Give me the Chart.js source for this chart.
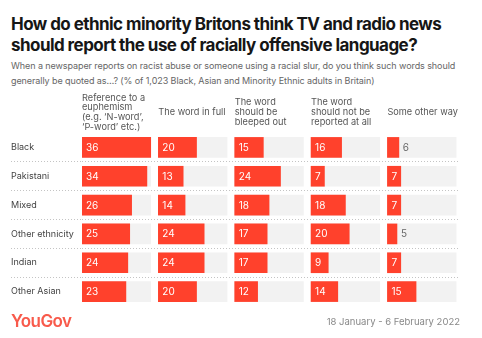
<!DOCTYPE html>
<html>
<head>
<meta charset="utf-8">
<script src="https://cdn.jsdelivr.net/npm/chart.js@4"></script>
<style>
  body { margin: 0; background: #fff; font-family: Inter, 'Noto Sans', sans-serif; }
  #wrap { position: relative; width: 482px; height: 338px; overflow: hidden; }
  #chart { position: absolute; left: 0; top: 0; }
  .title { position: absolute; left: 11px; top: 14px; font-size: 17px; line-height: 20.5px; font-weight: 700; color: #161616; white-space: nowrap; letter-spacing: -0.55px; }
  .subtitle { position: absolute; left: 11px; top: 58px; font-size: 9px; line-height: 15px; color: #666; white-space: nowrap; letter-spacing: -0.08px; }
  .logo { position: absolute; left: 11px; top: 310px; font-size: 17px; line-height: 22px; font-weight: 600; color: #f85a4b; letter-spacing: -0.6px; }
  .date { position: absolute; right: 22px; top: 315px; font-size: 9.5px; line-height: 14px; color: #888; }
</style>
</head>
<body>
<div id="wrap">
  <div class="title">How do ethnic minority Britons think TV and radio news<br>should report the use of racially offensive language?</div>
  <div class="subtitle">When a newspaper reports on racist abuse or someone using a racial slur, do you think such words should<br>generally be quoted as…? (% of 1,023 Black, Asian and Minority Ethnic adults in Britain)</div>
  <canvas id="chart" width="482" height="338"></canvas>
  <div class="logo">YouGov</div>
  <div class="date">18 January - 6 February 2022</div>
</div>
<script>
// Survey answers (%) by ethnic group
const ethnicGroups = ['Black', 'Pakistani', 'Mixed', 'Other ethnicity', 'Indian', 'Other Asian'];
const answerLabels = [
  ['Reference to a', 'euphemism', '(e.g. ‘N-word’,', '‘P-word’ etc.)'],
  ['The word in full'],
  ['The word', 'should be', 'bleeped out'],
  ['The word', 'should not be', 'reported at all'],
  ['Some other way']
];
const euphemism   = [36, 34, 26, 25, 24, 23];
const wordInFull  = [20, 13, 14, 24, 24, 20];
const bleepedOut  = [15, 24, 18, 17, 17, 12];
const notReported = [16, 7, 18, 20, 9, 14];
const otherWay    = [6, 7, 7, 5, 7, 15];

const answerValues = [euphemism, wordInFull, bleepedOut, notReported, otherWay];

// each answer gets its own panel along one shared x scale
const panelMax = 36;
const panelGap = 4;
const panelStart = answerValues.map((_, i) => i * (panelMax + panelGap));

const RED = '#ff412c';
const TRACK = '#f2f2f2';

const datasets = [];
answerValues.forEach((vals, p) => {
  datasets.push({
    label: answerLabels[p].join(' '),
    data: vals.map(v => [panelStart[p], panelStart[p] + v]),
    backgroundColor: RED,
    grouped: false,
    order: 0,
    isValue: true,
    raw: vals
  });
  datasets.push({
    label: 'track',
    data: vals.map(() => [panelStart[p], panelStart[p] + panelMax]),
    backgroundColor: TRACK,
    grouped: false,
    order: 1
  });
});

const rowLine = '#c4c4c4';
function separatorColor(c) {
  return c.index > 0 && c.index < ethnicGroups.length ? rowLine : 'rgba(0,0,0,0)';
}

// column headings, centred vertically above each panel
const headerPlugin = {
  id: 'headers',
  afterDraw(chart) {
    const ctx = chart.ctx;
    const x = chart.scales.x;
    const lh = 9.8;
    const midY = 112.5;
    ctx.save();
    ctx.font = '9.2px Inter, sans-serif';
    ctx.fillStyle = '#555';
    ctx.textAlign = 'left';
    ctx.textBaseline = 'middle';
    answerLabels.forEach((lines, p) => {
      const left = x.getPixelForValue(panelStart[p]);
      const top = midY - (lines.length - 1) * lh / 2;
      lines.forEach((line, i) => ctx.fillText(line, left, top + i * lh));
    });
    ctx.restore();
  }
};

// value labels: white inside the bar, grey just after it when the bar is short
const valuePlugin = {
  id: 'values',
  afterDatasetsDraw(chart) {
    const ctx = chart.ctx;
    ctx.save();
    ctx.font = '10px Inter, sans-serif';
    ctx.textBaseline = 'middle';
    ctx.textAlign = 'left';
    chart.data.datasets.forEach((ds, di) => {
      if (!ds.isValue) return;
      chart.getDatasetMeta(di).data.forEach((bar, i) => {
        const v = ds.raw[i];
        const start = Math.min(bar.x, bar.base);
        const end = Math.max(bar.x, bar.base);
        if (v >= 7) {
          ctx.fillStyle = '#fff';
          ctx.fillText(String(v), start + 4, bar.y + 0.5);
        } else {
          ctx.fillStyle = '#666';
          ctx.fillText(String(v), end + 4, bar.y + 0.5);
        }
      });
    });
    ctx.restore();
  }
};

new Chart(document.getElementById('chart'), {
  type: 'bar',
  data: { labels: ethnicGroups, datasets },
  options: {
    indexAxis: 'y',
    responsive: false,
    devicePixelRatio: 1,
    animation: false,
    layout: { padding: { left: 11, right: 23, top: 133, bottom: 32 } },
    datasets: { bar: { barThickness: 20, borderWidth: 0 } },
    scales: {
      x: {
        type: 'linear',
        display: false,
        min: 0,
        max: panelStart[4] + panelMax + 1.5
      },
      y: {
        afterFit(scale) { scale.width = 71; },
        ticks: {
          crossAlign: 'far',
          color: '#444',
          font: { family: 'Inter, sans-serif', size: 9 }
        },
        grid: {
          offset: true,
          color: separatorColor,
          tickColor: separatorColor,
          tickLength: 71,
          tickBorderDash: [1, 2],
          lineWidth: 1
        },
        border: { display: false, dash: [1, 2] }
      }
    },
    plugins: {
      legend: { display: false },
      tooltip: { enabled: false }
    }
  },
  plugins: [headerPlugin, valuePlugin]
});
</script>
</body>
</html>
